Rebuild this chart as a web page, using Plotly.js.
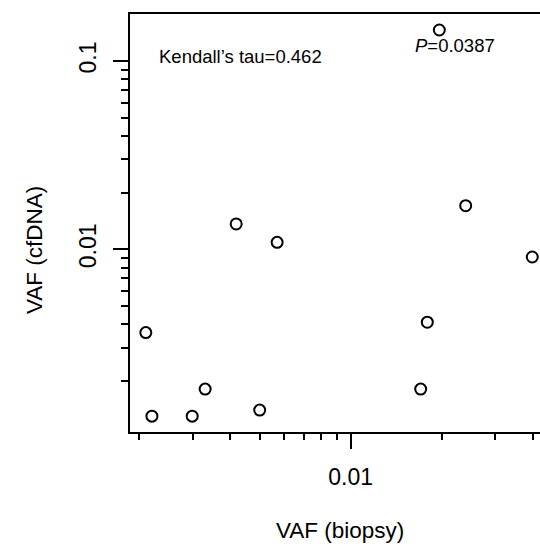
<!DOCTYPE html>
<html>
<head>
<meta charset="utf-8">
<script src="https://cdn.plot.ly/plotly-3.0.1.min.js"></script>
<style>html,body{margin:0;padding:0;background:#fff;}#chart{width:540px;height:546px;}</style>
</head>
<body>
<div id="chart"></div>
<script>
// Data (VAF values)
var vafBiopsy = [0.00210, 0.00220, 0.00299, 0.00330, 0.00418, 0.00500, 0.00571, 0.01704, 0.01792, 0.02401, 0.03987, 0.01964];
var vafCfDNA  = [0.00361, 0.00130, 0.00130, 0.00181, 0.01363, 0.00140, 0.01089, 0.00181, 0.00410, 0.01704, 0.00910, 0.14610];

var xMajorTicks = [0.01];
var xMajorLabels = ["0.01"];
var xMinorTicks = [0.002, 0.003, 0.004, 0.005, 0.006, 0.007, 0.008, 0.009, 0.02, 0.03, 0.04];
var yMajorTicks = [0.01, 0.1];
var yMajorLabels = ["0.01", "0.1"];
var yMinorTicks = [0.002, 0.003, 0.004, 0.005, 0.006, 0.007, 0.008, 0.009,
                   0.02, 0.03, 0.04, 0.05, 0.06, 0.07, 0.08, 0.09];

var FONT = "Liberation Sans, Arial, sans-serif";

var trace = {
  x: vafBiopsy, y: vafCfDNA, type: "scatter", mode: "markers",
  marker: {symbol: "circle-open", size: 11, color: "black", line: {width: 2, color: "black"}},
  hoverinfo: "x+y", showlegend: false
};

var layout = {
  width: 540, height: 546,
  margin: {l: 130, r: 0, t: 14, b: 114, pad: 0},
  paper_bgcolor: "white", plot_bgcolor: "white",
  font: {family: FONT, color: "black"},
  xaxis: {
    type: "log", range: [-2.7301, -1.3738],
    showgrid: false, zeroline: false,
    showline: true, linecolor: "black", linewidth: 2, mirror: true,
    ticks: "outside", ticklen: 15, tickwidth: 2, tickcolor: "black",
    tickmode: "array", tickvals: xMajorTicks, ticktext: xMajorLabels,
    tickfont: {size: 23, family: FONT, color: "black"},
    ticklabelstandoff: 8,
    minor: {tickmode: "array", tickvals: xMinorTicks, ticks: "outside", ticklen: 6, tickwidth: 2, tickcolor: "black", showgrid: false}
  },
  yaxis: {
    type: "log", range: [-2.9703, -0.7504],
    showgrid: false, zeroline: false,
    showline: true, linecolor: "black", linewidth: 2, mirror: false,
    ticks: "outside", ticklen: 15, tickwidth: 2, tickcolor: "black",
    tickmode: "array", tickvals: yMajorTicks, ticktext: yMajorLabels,
    tickangle: -90,
    tickfont: {size: 23, family: FONT, color: "black"},
    ticklabelstandoff: 8,
    minor: {tickmode: "array", tickvals: yMinorTicks, ticks: "outside", ticklen: 7, tickwidth: 2, tickcolor: "black", showgrid: false}
  },
  annotations: [
    {text: "Kendall\u2019s tau=0.462", xref: "paper", yref: "paper", x: 0.0659, y: 0.8978,
     xanchor: "left", yanchor: "middle", showarrow: false, font: {size: 18.5, family: FONT, color: "black"}},
    {text: "<i>P</i>=0.0387", xref: "paper", yref: "paper", x: 0.6895, y: 0.9258,
     xanchor: "left", yanchor: "middle", showarrow: false, font: {size: 18.5, family: FONT, color: "black"}},
    {text: "VAF (biopsy)", xref: "paper", yref: "paper", x: 0.5122, y: -0.2356,
     xanchor: "center", yanchor: "middle", showarrow: false, font: {size: 22.5, family: FONT, color: "black"}},
    {text: "VAF (cfDNA)", xref: "paper", yref: "paper", x: -0.234, y: 0.4354, textangle: -90,
     xanchor: "center", yanchor: "middle", showarrow: false, font: {size: 22.5, family: FONT, color: "black"}}
  ]
};

Plotly.newPlot("chart", [trace], layout, {displayModeBar: false, staticPlot: true});
</script>
</body>
</html>
